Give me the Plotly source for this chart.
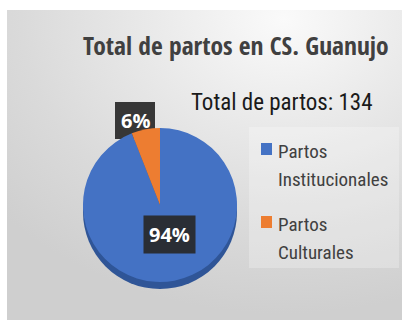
import base64
import plotly.graph_objects as go

# Births attended at CS. Guanujo
categories = ["Partos Institucionales", "Partos Culturales"]
births = [126, 8]
colors = ["#4472C4", "#ED7D31"]
side_color = "#2F5597"

W, H = 402, 320
total = sum(births)
shares = [f"{round(v / total * 100)}%" for v in births]


def px(x):
    return x / W


def py(y):
    return 1 - y / H


# soft radial backdrop
svg = (
    '<svg xmlns="http://www.w3.org/2000/svg" width="395" height="310" preserveAspectRatio="none">'
    '<defs><radialGradient id="g" cx="0.7" cy="0.03" r="0.95">'
    '<stop offset="0" stop-color="#fafafa"/>'
    '<stop offset="0.3" stop-color="#ececec"/>'
    '<stop offset="0.7" stop-color="#dadada"/>'
    '<stop offset="1" stop-color="#cfcfcf"/>'
    '</radialGradient></defs>'
    '<rect width="395" height="310" fill="url(#g)"/></svg>'
)
bg_src = "data:image/svg+xml;base64," + base64.b64encode(svg.encode()).decode()

cx, cy, r = 160, 205, 77

fig = go.Figure(
    go.Pie(
        labels=categories,
        values=births,
        marker=dict(colors=colors, line=dict(width=0)),
        sort=False,
        direction="clockwise",
        rotation=0,
        textinfo="none",
        hoverinfo="label+value+percent",
        showlegend=False,
        domain=dict(x=[px(cx - r), px(cx + r)], y=[py(cy + r), py(cy - r)]),
    )
)

shapes = [
    # legend panel
    dict(type="rect", xref="paper", yref="paper", layer="below",
         x0=px(249), x1=px(399), y0=py(268), y1=py(127),
         fillcolor="rgba(255,255,255,0.25)", line=dict(width=0)),
    # side of the tilted pie
    dict(type="circle", xref="paper", yref="paper", layer="below",
         x0=px(cx - r), x1=px(cx + r), y0=py(cy + r + 7), y1=py(cy - r + 7),
         fillcolor=side_color, line=dict(width=0)),
    # box behind the small-slice label, tucked under the pie
    dict(type="rect", xref="paper", yref="paper", layer="below",
         x0=px(115), x1=px(155), y0=py(139), y1=py(102),
         fillcolor="rgba(40,40,40,0.92)", line=dict(width=0)),
]

annotations = [
    dict(text="Total de partos en CS. Guanujo", x=px(235.5), y=py(45),
         font=dict(family="Open Sans Condensed", size=25.5, color="#404040", weight="bold")),
    dict(text=f"Total de partos: {total}", x=px(282), y=py(102),
         font=dict(family="Roboto Condensed", size=23, color="#1a1a1a")),
    # percentage labels
    dict(text=shares[0], x=px(169), y=py(234), bgcolor="rgba(40,40,40,0.92)", borderpad=5,
         font=dict(family="Open Sans", size=20, color="white", weight="bold")),
    dict(text=shares[1], x=px(135), y=py(120),
         font=dict(family="Open Sans", size=20, color="white", weight="bold")),
]

# legend: square key plus two text lines per category
legend_y = [149, 222]
for name, col, ky in zip(categories, colors, legend_y):
    shapes.append(dict(type="rect", xref="paper", yref="paper",
                       x0=px(261), x1=px(272), y0=py(ky + 6), y1=py(ky - 6),
                       fillcolor=col, line=dict(width=0)))
    first, second = name.split(" ", 1)
    for i, line in enumerate([first, second]):
        annotations.append(dict(
            text=line, x=px(276), y=py(ky + 2 + 28 * i), xanchor="left",
            font=dict(family="Roboto Condensed", size=19, color="#404040")))

for a in annotations:
    a.setdefault("xanchor", "center")
    a.update(xref="paper", yref="paper", yanchor="middle", showarrow=False)

fig.update_layout(
    width=W, height=H,
    margin=dict(l=0, r=0, t=0, b=0),
    paper_bgcolor="white",
    plot_bgcolor="rgba(0,0,0,0)",
    images=[dict(source=bg_src, xref="paper", yref="paper", x=px(7), y=py(10),
                 sizex=px(395), sizey=310 / H, sizing="stretch",
                 xanchor="left", yanchor="top", layer="below")],
    shapes=shapes,
    annotations=annotations,
)

fig.write_html("out.html")
